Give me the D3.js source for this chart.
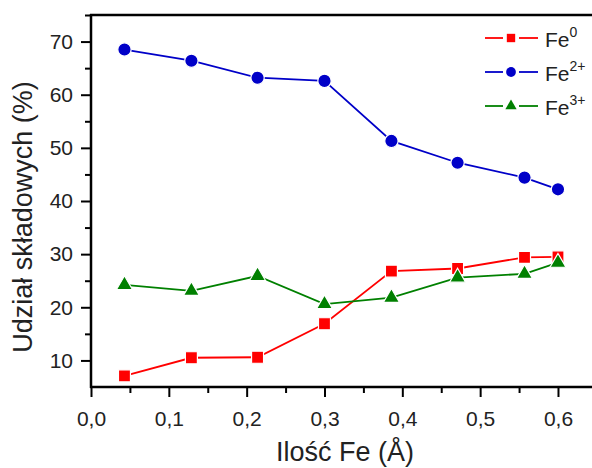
<!DOCTYPE html>
<html>
<head>
<meta charset="utf-8">
<script src="https://cdn.jsdelivr.net/npm/d3@7"></script>
<style>
  body { margin: 0; background: #fff; }
  svg { display: block; font-family: "Liberation Sans", Arial, sans-serif; }
</style>
</head>
<body>
<div id="chart"></div>
<script>
// data
var ilosc = [0.043, 0.129, 0.214, 0.300, 0.386, 0.471, 0.557, 0.600];
var fe0 = [7.1, 10.5, 10.6, 16.9, 26.8, 27.3, 29.4, 29.5];
var fe2 = [68.5, 66.4, 63.2, 62.6, 51.3, 47.2, 44.4, 42.2];
var fe3 = [24.2, 23.1, 25.9, 20.6, 21.8, 25.6, 26.3, 28.4];
var xTicks = [0, 0.1, 0.2, 0.3, 0.4, 0.5, 0.6];
var yTicks = [10, 20, 30, 40, 50, 60, 70];

var series = [
    { name: "Fe", sup: "0", values: fe0, color: "#ff0000", symbol: d3.symbolSquare, size: 144, legSize: 70 },
    { name: "Fe", sup: "2+", values: fe2, color: "#0000c8", symbol: d3.symbolCircle, size: 140, legSize: 75 },
    { name: "Fe", sup: "3+", values: fe3, color: "#008000", symbol: d3.symbolTriangle, size: 110, legSize: 55 }
];

var width = 592,
    height = 468;

var svg = d3.select("#chart").append("svg")
    .attr("width", width)
    .attr("height", height);

var x = d3.scaleLinear()
    .domain([0, 0.65])
    .range([91, 91 + 0.65 * 778.3]);

var y = d3.scaleLinear()
    .domain([5, 75])
    .range([387, 15]);

// minor ticks first, then major ones on top
svg.append("g")
    .attr("transform", "translate(0,387)")
    .call(d3.axisBottom(x).tickValues(d3.range(0.05, 0.65, 0.1)).tickSize(6).tickFormat(""))
    .call(g => g.select(".domain").remove())
    .selectAll("line").attr("stroke-width", 2);

svg.append("g")
    .attr("transform", "translate(91,0)")
    .call(d3.axisLeft(y).tickValues(d3.range(15, 80, 10)).tickSize(6).tickFormat(""))
    .call(g => g.select(".domain").remove())
    .selectAll("line").attr("stroke-width", 2);

var xAxis = svg.append("g")
    .attr("transform", "translate(0,387)")
    .call(d3.axisBottom(x)
        .tickValues(xTicks)
        .tickSize(10)
        .tickPadding(14)
        .tickFormat(d => d3.format(".1f")(d).replace(".", ",")));
xAxis.select(".domain").remove();
xAxis.selectAll("line").attr("stroke-width", 2);
xAxis.selectAll("text")
    .attr("font-size", 21)
    .attr("fill", "#222")
    .attr("font-family", "Liberation Sans, Arial, sans-serif");

var yAxis = svg.append("g")
    .attr("transform", "translate(91,0)")
    .call(d3.axisLeft(y)
        .tickValues(yTicks)
        .tickSize(10)
        .tickPadding(8));
yAxis.select(".domain").remove();
yAxis.selectAll("line").attr("stroke-width", 2);
yAxis.selectAll("text")
    .attr("font-size", 21)
    .attr("fill", "#222")
    .attr("font-family", "Liberation Sans, Arial, sans-serif");

// frame lines: left, bottom, top
svg.append("line").attr("x1", 91).attr("x2", 91).attr("y1", 14).attr("y2", 388)
    .attr("stroke", "#000").attr("stroke-width", 2.5);
svg.append("line").attr("x1", 90).attr("x2", width).attr("y1", 387).attr("y2", 387)
    .attr("stroke", "#000").attr("stroke-width", 2.5);
svg.append("line").attr("x1", 90).attr("x2", width).attr("y1", 15).attr("y2", 15)
    .attr("stroke", "#000").attr("stroke-width", 2.5);

// axis titles
svg.append("text")
    .attr("transform", "translate(32,217) rotate(-90)")
    .attr("text-anchor", "middle")
    .attr("font-size", 27)
    .attr("fill", "#222")
    .text("Udział składowych (%)");

svg.append("text")
    .attr("x", 345)
    .attr("y", 461)
    .attr("text-anchor", "middle")
    .attr("font-size", 27)
    .attr("fill", "#222")
    .text("Ilość Fe (Å)");

// series
var line = d3.line()
    .x(d => x(d[0]))
    .y(d => y(d[1]));

series.forEach(function(s) {
    var pts = ilosc.map((v, i) => [v, s.values[i]]);
    svg.append("path")
        .attr("d", line(pts))
        .attr("fill", "none")
        .attr("stroke", s.color)
        .attr("stroke-width", 1.8);
    svg.append("g").selectAll("path")
        .data(pts)
        .enter().append("path")
        .attr("transform", d => "translate(" + x(d[0]) + "," + y(d[1]) + ")")
        .attr("d", d3.symbol().type(s.symbol).size(s.size))
        .attr("fill", s.color)
        .attr("stroke", "#fff")
        .attr("stroke-width", 1.2);
});

// legend
var legend = svg.append("g");
series.forEach(function(s, i) {
    var ly = 38 + i * 34;
    legend.append("line").attr("x1", 485).attr("x2", 503).attr("y1", ly).attr("y2", ly)
        .attr("stroke", s.color).attr("stroke-width", 1.8);
    legend.append("line").attr("x1", 519).attr("x2", 538).attr("y1", ly).attr("y2", ly)
        .attr("stroke", s.color).attr("stroke-width", 1.8);
    legend.append("path")
        .attr("transform", "translate(511," + ly + ")")
        .attr("d", d3.symbol().type(s.symbol).size(s.legSize))
        .attr("fill", s.color);
    var t = legend.append("text")
        .attr("x", 545)
        .attr("y", ly + 9)
        .attr("font-size", 21)
        .attr("fill", "#222");
    t.append("tspan").text(s.name);
    t.append("tspan")
        .attr("font-size", 14)
        .attr("dy", -10)
        .text(s.sup);
});
</script>
</body>
</html>
